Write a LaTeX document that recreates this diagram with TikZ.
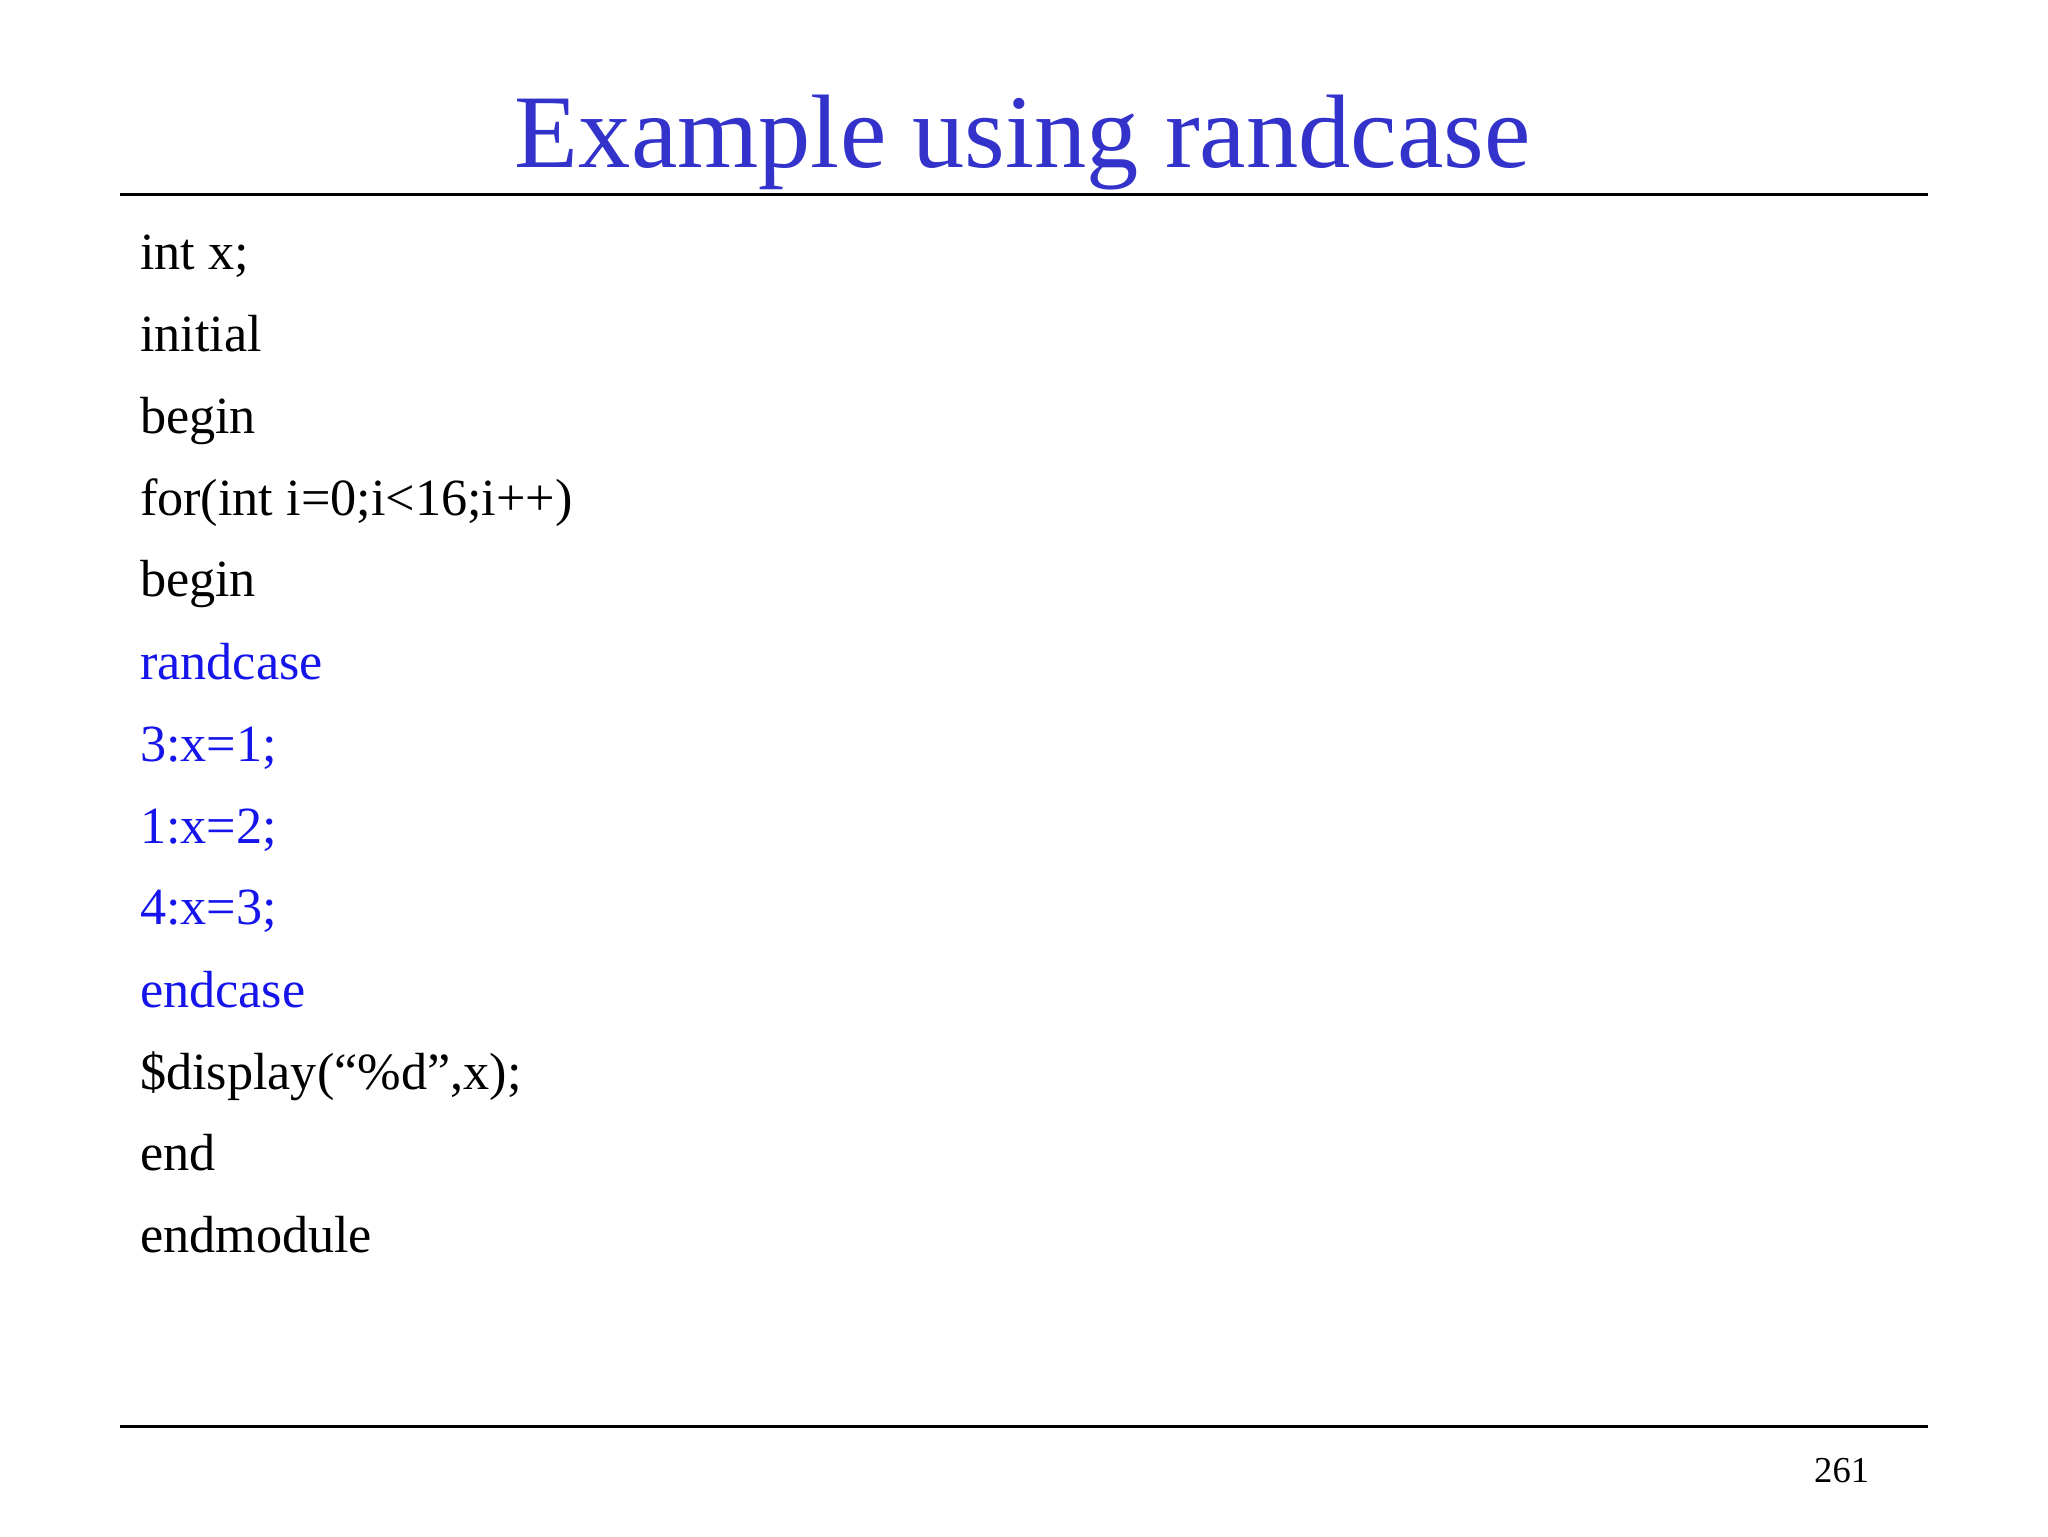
\documentclass[tikz,border=0pt]{standalone}
\usepackage{fontspec}
\setmainfont{Liberation Serif}
\definecolor{titleblue}{RGB}{51,51,204}
\definecolor{codeblue}{RGB}{20,20,235}
\begin{document}
\begin{tikzpicture}[x=1pt,y=-1pt,
  code/.style={anchor=base west,inner sep=0pt,font=\fontsize{40}{48}\selectfont},
  bl/.style={code,text=codeblue}]
\useasboundingbox (0,0) rectangle (1568,1176);
\node[anchor=base,inner sep=0pt,text=titleblue,font=\fontsize{80}{96}\selectfont] (title) at (783,128) {Example using randcase};
\draw[line width=2] (92,149) -- (1476,149);
\draw[line width=2] (92,1092) -- (1476,1092);
\node[code] (l1) at (107,206) {int x;};
\node[code] (l2) at (107,269) {initial};
\node[code] (l3) at (107,332) {begin};
\node[code] (l4) at (107,395) {for(int i=0;i<16;i++)};
\node[code] (l5) at (107,457) {begin};
\node[bl] (l6) at (107,520) {randcase};
\node[bl] (l7) at (107,583) {3:x=1;};
\node[bl] (l8) at (107,646) {1:x=2;};
\node[bl] (l9) at (107,708) {4:x=3;};
\node[bl] (l10) at (107,771) {endcase};
\node[code] (l11) at (107,834) {\$display(“\%d”,x);};
\node[code] (l12) at (107,896) {end};
\node[code] (l13) at (107,959) {endmodule};
\node[anchor=base,inner sep=0pt,font=\fontsize{28}{34}\selectfont] (pg) at (1410,1135) {261};
\end{tikzpicture}
\end{document}
